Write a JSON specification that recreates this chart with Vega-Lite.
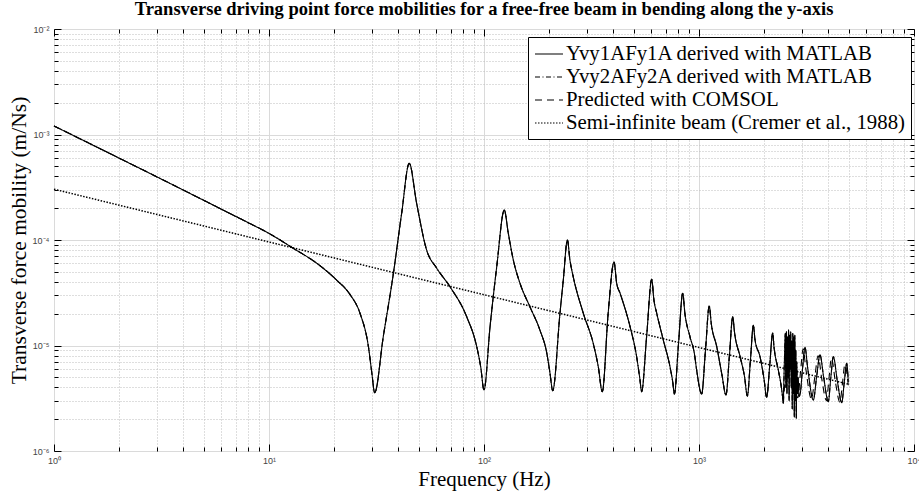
{
  "$schema": "https://vega.github.io/schema/vega-lite/v6.json",
  "width": 860,
  "height": 422,
  "autosize": "none",
  "padding": {"left": 54, "top": 29, "right": 5, "bottom": 44},
  "background": "white",
  "config": {"view": {"stroke": "black", "strokeWidth": 1}},
  "title": {"text": "Transverse driving point force mobilities for a free-free beam in bending along the y-axis", "font": "Liberation Serif", "fontSize": 18.5, "fontWeight": "bold", "anchor": "middle", "offset": 7, "color": "black"},
  "datasets": {
    "curves": [
      {"f": 1, "m": 1.205e-3}, {"f": 2, "m": 6.0e-4}, {"f": 4, "m": 2.97e-4}, {"f": 6, "m": 1.96e-4}, {"f": 8, "m": 1.46e-4},
      {"f": 10, "m": 1.156e-4}, {"f": 12.97, "m": 8.34e-5}, {"f": 16.7, "m": 6.01e-5}, {"f": 20.6, "m": 4.18e-5}, {"f": 23.8, "m": 3.05e-5},
      {"f": 26.5, "m": 2.02e-5}, {"f": 29.0, "m": 9.75e-6}, {"f": 30.1, "m": 5.45e-6}, {"f": 31.0, "m": 3.57e-6}, {"f": 34.0, "m": 1.21e-5},
      {"f": 37.9, "m": 4.83e-5}, {"f": 41.4, "m": 1.79e-4}, {"f": 44.9, "m": 5.33e-4}, {"f": 48.6, "m": 2.23e-4}, {"f": 54.1, "m": 8.03e-5},
      {"f": 60.3, "m": 5.4e-5}, {"f": 69.5, "m": 3.6e-5}, {"f": 83.1, "m": 1.87e-5}, {"f": 92.5, "m": 9.75e-6}, {"f": 96.5, "m": 6.3e-6},
      {"f": 100, "m": 3.79e-6}, {"f": 106.7, "m": 1.51e-5}, {"f": 114.6, "m": 5.58e-5}, {"f": 124.3, "m": 1.92e-4}, {"f": 129.7, "m": 1.16e-4},
      {"f": 136.9, "m": 6.46e-5}, {"f": 147, "m": 3.89e-5}, {"f": 163.5, "m": 2.33e-5}, {"f": 182, "m": 1.4e-5}, {"f": 196, "m": 8.43e-6},
      {"f": 202.8, "m": 5.45e-6}, {"f": 208.7, "m": 3.73e-6}, {"f": 225.6, "m": 2.02e-5}, {"f": 233.8, "m": 4.18e-5}, {"f": 244.3, "m": 1.0e-4},
      {"f": 251, "m": 6.46e-5}, {"f": 260, "m": 4.49e-5}, {"f": 289.7, "m": 2.02e-5}, {"f": 322, "m": 1.05e-5}, {"f": 340, "m": 6.3e-6},
      {"f": 355, "m": 3.65e-6}, {"f": 378, "m": 2.02e-5}, {"f": 402.5, "m": 6.18e-5}, {"f": 414, "m": 3.9e-5}, {"f": 429.5, "m": 3.13e-5},
      {"f": 477.8, "m": 1.51e-5}, {"f": 513, "m": 7.8e-6}, {"f": 531, "m": 4.8e-6}, {"f": 541, "m": 3.65e-6}, {"f": 571, "m": 1.24e-5},
      {"f": 602.6, "m": 4.24e-5}, {"f": 617, "m": 2.7e-5}, {"f": 636, "m": 2.02e-5}, {"f": 682, "m": 1.13e-5}, {"f": 733, "m": 6.3e-6},
      {"f": 755, "m": 4.5e-6}, {"f": 768, "m": 3.47e-6}, {"f": 803, "m": 1.04e-5}, {"f": 840, "m": 3.13e-5}, {"f": 860, "m": 2.01e-5},
      {"f": 908, "m": 1.21e-5}, {"f": 952, "m": 8.36e-6}, {"f": 975, "m": 5.86e-6}, {"f": 1029, "m": 3.47e-6}, {"f": 1072, "m": 9.06e-6},
      {"f": 1116, "m": 2.37e-5}, {"f": 1141, "m": 1.6e-5}, {"f": 1209, "m": 9.75e-6}, {"f": 1275, "m": 5.45e-6}, {"f": 1335, "m": 3.4e-6},
      {"f": 1385, "m": 7.98e-6}, {"f": 1435, "m": 1.87e-5}, {"f": 1463, "m": 1.33e-5}, {"f": 1553, "m": 7.83e-6}, {"f": 1627, "m": 5.12e-6},
      {"f": 1679, "m": 3.32e-6}, {"f": 1734, "m": 7.18e-6}, {"f": 1790, "m": 1.55e-5}, {"f": 1821, "m": 1.14e-5}, {"f": 1922, "m": 7.83e-6},
      {"f": 2007, "m": 4.79e-6}, {"f": 2064, "m": 3.23e-6}, {"f": 2133, "m": 6.49e-6}, {"f": 2201, "m": 1.31e-5}, {"f": 2234, "m": 9.6e-6},
      {"f": 2338, "m": 5.86e-6}, {"f": 2411, "m": 4.15e-6}, {"f": 2468, "m": 2.83e-6},
      {"f": 2468, "a": 2.83e-6}, {"f": 2500, "a": 8e-6}, {"f": 2520, "a": 1.3e-5}, {"f": 2535, "a": 4e-6}, {"f": 2550, "a": 1.35e-5},
      {"f": 2565, "a": 3.5e-6}, {"f": 2580, "a": 1.2e-5}, {"f": 2595, "a": 5e-6}, {"f": 2610, "a": 1.4e-5}, {"f": 2625, "a": 3e-6},
      {"f": 2640, "a": 1.25e-5}, {"f": 2655, "a": 6e-6}, {"f": 2670, "a": 1.35e-5}, {"f": 2685, "a": 4e-6}, {"f": 2700, "a": 1.1e-5},
      {"f": 2715, "a": 2.5e-6}, {"f": 2730, "a": 1.3e-5}, {"f": 2745, "a": 3.5e-6}, {"f": 2760, "a": 1.2e-5}, {"f": 2775, "a": 2.1e-6},
      {"f": 2790, "a": 1.25e-5}, {"f": 2805, "a": 3e-6}, {"f": 2820, "a": 9e-6}, {"f": 2835, "a": 2.05e-6}, {"f": 2850, "a": 7e-6},
      {"f": 2870, "a": 3.5e-6}, {"f": 2890, "a": 5e-6}, {"f": 2920, "a": 3.3e-6}, {"f": 2950, "a": 3.4e-6}, {"f": 3030, "a": 6.0e-6},
      {"f": 3112, "a": 9.6e-6}, {"f": 3200, "a": 6.2e-6}, {"f": 3402, "a": 3.04e-6}, {"f": 3530, "a": 5.2e-6}, {"f": 3654, "a": 8.15e-6},
      {"f": 3800, "a": 5.0e-6}, {"f": 3994, "a": 2.94e-6}, {"f": 4100, "a": 4.9e-6}, {"f": 4215, "a": 7.83e-6}, {"f": 4400, "a": 4.6e-6},
      {"f": 4611, "a": 2.87e-6}, {"f": 4740, "a": 4.5e-6}, {"f": 4864, "a": 6.78e-6}, {"f": 4948, "a": 4.5e-6},
      {"f": 2468, "c": 2.83e-6}, {"f": 2540, "c": 6.5e-6}, {"f": 2590, "c": 1.15e-5}, {"f": 2700, "c": 6e-6}, {"f": 2880, "c": 3.2e-6},
      {"f": 2970, "c": 5.8e-6}, {"f": 3050, "c": 9.3e-6}, {"f": 3140, "c": 6.0e-6}, {"f": 3335, "c": 3.1e-6}, {"f": 3460, "c": 5.1e-6},
      {"f": 3580, "c": 8.0e-6}, {"f": 3720, "c": 4.9e-6}, {"f": 3915, "c": 3.0e-6}, {"f": 4020, "c": 4.8e-6}, {"f": 4130, "c": 7.6e-6},
      {"f": 4310, "c": 4.5e-6}, {"f": 4520, "c": 2.9e-6}, {"f": 4650, "c": 4.4e-6}, {"f": 4770, "c": 6.6e-6}, {"f": 4948, "c": 4.2e-6},
      {"f": 1, "d": 3.03e-4}, {"f": 5000, "d": 4.28e-6}
    ]
  },
  "data": {"name": "curves"},
  "resolve": {"axis": {"x": "independent", "y": "independent"}},
  "layer": [
    {
      "transform": [{"filter": "isValid(datum.m)"}],
      "mark": {"type": "line", "color": "black", "strokeWidth": 1.1, "interpolate": "monotone"},
      "encoding": {
        "x": {"field": "f", "type": "quantitative", "scale": {"type": "log", "domain": [1, 10000], "nice": false},
          "axis": {"orient": "bottom", "values": [1, 10, 100, 1000, 10000], "labelExpr": "'10' + ['⁰','¹','²','³','⁴'][round(log(datum.value)/LN10)]", "ticks": false, "grid": true, "gridColor": "#dadada", "gridWidth": 1, "domain": false, "labelFont": "Liberation Sans", "labelFontSize": 9, "labelColor": "#444", "labelPadding": 5, "labelFlush": false, "labelOverlap": false, "title": "Frequency (Hz)", "titleFont": "Liberation Serif", "titleFontSize": 21, "titleFontWeight": "normal", "titleColor": "black", "titlePadding": 3}},
        "y": {"field": "m", "type": "quantitative", "scale": {"type": "log", "domain": [1e-6, 1e-2], "nice": false},
          "axis": {"orient": "left", "values": [1e-6, 1e-5, 1e-4, 1e-3, 1e-2], "labelExpr": "'10⁻' + ['⁰','¹','²','³','⁴','⁵','⁶'][round(-log(datum.value)/LN10)]", "ticks": false, "grid": true, "gridColor": "#dadada", "gridWidth": 1, "domain": false, "labelFont": "Liberation Sans", "labelFontSize": 9, "labelColor": "#444", "labelPadding": 5, "labelFlush": false, "labelOverlap": false, "title": "Transverse force mobility (m/Ns)", "titleFont": "Liberation Serif", "titleFontSize": 21.5, "titleFontWeight": "normal", "titleColor": "black", "titlePadding": 2}},
        "strokeDash": {"datum": "Yvy1AFy1A derived with MATLAB", "type": "nominal",
          "scale": {"domain": ["Yvy1AFy1A derived with MATLAB", "Yvy2AFy2A derived with MATLAB", "Predicted with COMSOL", "Semi-infinite beam (Cremer et al., 1988)"], "range": [[1, 0], [5, 2.5, 1, 2.5], [7, 5], [1.5, 1.5]]},
          "legend": {"title": null, "orient": "none", "legendX": 474, "legendY": 8, "strokeColor": "black", "fillColor": "white", "padding": 6, "labelFont": "Liberation Serif", "labelFontSize": 20.8, "labelColor": "black", "labelLimit": 0, "symbolType": "M-1.4,0H1.4", "symbolSize": 400, "symbolOffset": 4, "symbolStrokeWidth": 1.2, "symbolStrokeColor": "black", "labelOffset": 6, "rowPadding": 2, "cornerRadius": 0}}
      }
    },
    {
      "transform": [{"filter": "isValid(datum.m)"}],
      "mark": {"type": "line", "color": "black", "strokeWidth": 1.1, "interpolate": "monotone"},
      "encoding": {
        "x": {"field": "f", "type": "quantitative", "scale": {"type": "log", "domain": [1, 10000], "nice": false},
          "axis": {"orient": "bottom", "values": [2,3,4,5,6,7,8,9,20,30,40,50,60,70,80,90,200,300,400,500,600,700,800,900,2000,3000,4000,5000,6000,7000,8000,9000], "labels": false, "ticks": true, "tickSize": -4, "tickColor": "black", "grid": true, "gridColor": "#bdbdbd", "gridDash": [1, 2], "domain": false, "title": null}},
        "y": {"field": "m", "type": "quantitative", "scale": {"type": "log", "domain": [1e-6, 1e-2], "nice": false},
          "axis": {"orient": "left", "values": [2e-6,3e-6,4e-6,5e-6,6e-6,7e-6,8e-6,9e-6,2e-5,3e-5,4e-5,5e-5,6e-5,7e-5,8e-5,9e-5,2e-4,3e-4,4e-4,5e-4,6e-4,7e-4,8e-4,9e-4,2e-3,3e-3,4e-3,5e-3,6e-3,7e-3,8e-3,9e-3], "labels": false, "ticks": true, "tickSize": -4, "tickColor": "black", "grid": true, "gridColor": "#bdbdbd", "gridDash": [1, 2], "domain": false, "title": null}},
        "strokeDash": {"datum": "Yvy2AFy2A derived with MATLAB", "type": "nominal"}
      }
    },
    {
      "transform": [{"filter": "isValid(datum.m)"}],
      "mark": {"type": "line", "color": "black", "strokeWidth": 1.1, "interpolate": "monotone"},
      "encoding": {
        "x": {"field": "f", "type": "quantitative", "scale": {"type": "log", "domain": [1, 10000], "nice": false},
          "axis": {"orient": "bottom", "values": [1, 10, 100, 1000, 10000], "labels": false, "ticks": true, "tickSize": -7, "tickColor": "black", "grid": false, "domain": false, "title": null}},
        "y": {"field": "m", "type": "quantitative", "scale": {"type": "log", "domain": [1e-6, 1e-2], "nice": false},
          "axis": {"orient": "left", "values": [1e-6, 1e-5, 1e-4, 1e-3, 1e-2], "labels": false, "ticks": true, "tickSize": -7, "tickColor": "black", "grid": false, "domain": false, "title": null}},
        "strokeDash": {"datum": "Predicted with COMSOL", "type": "nominal"}
      }
    },
    {
      "transform": [{"filter": "isValid(datum.a)"}],
      "mark": {"type": "line", "color": "black", "strokeWidth": 1.1, "interpolate": "monotone"},
      "encoding": {
        "x": {"field": "f", "type": "quantitative", "scale": {"type": "log", "domain": [1, 10000], "nice": false},
          "axis": {"orient": "top", "values": [2,3,4,5,6,7,8,9,20,30,40,50,60,70,80,90,200,300,400,500,600,700,800,900,2000,3000,4000,5000,6000,7000,8000,9000], "labels": false, "ticks": true, "tickSize": -4, "tickColor": "black", "grid": false, "domain": false, "title": null}},
        "y": {"field": "a", "type": "quantitative", "scale": {"type": "log", "domain": [1e-6, 1e-2], "nice": false},
          "axis": {"orient": "right", "values": [2e-6,3e-6,4e-6,5e-6,6e-6,7e-6,8e-6,9e-6,2e-5,3e-5,4e-5,5e-5,6e-5,7e-5,8e-5,9e-5,2e-4,3e-4,4e-4,5e-4,6e-4,7e-4,8e-4,9e-4,2e-3,3e-3,4e-3,5e-3,6e-3,7e-3,8e-3,9e-3], "labels": false, "ticks": true, "tickSize": -4, "tickColor": "black", "grid": false, "domain": false, "title": null}},
        "strokeDash": {"datum": "Yvy1AFy1A derived with MATLAB", "type": "nominal"}
      }
    },
    {
      "transform": [{"filter": "isValid(datum.a)"}],
      "mark": {"type": "line", "color": "black", "strokeWidth": 1.1, "interpolate": "monotone"},
      "encoding": {
        "x": {"field": "f", "type": "quantitative", "scale": {"type": "log", "domain": [1, 10000], "nice": false},
          "axis": {"orient": "top", "values": [1, 10, 100, 1000, 10000], "labels": false, "ticks": true, "tickSize": -7, "tickColor": "black", "grid": false, "domain": false, "title": null}},
        "y": {"field": "a", "type": "quantitative", "scale": {"type": "log", "domain": [1e-6, 1e-2], "nice": false},
          "axis": {"orient": "right", "values": [1e-6, 1e-5, 1e-4, 1e-3, 1e-2], "labels": false, "ticks": true, "tickSize": -7, "tickColor": "black", "grid": false, "domain": false, "title": null}},
        "strokeDash": {"datum": "Yvy2AFy2A derived with MATLAB", "type": "nominal"}
      }
    },
    {
      "transform": [{"filter": "isValid(datum.c)"}],
      "mark": {"type": "line", "color": "black", "strokeWidth": 1.1, "interpolate": "monotone"},
      "encoding": {
        "x": {"field": "f", "type": "quantitative", "scale": {"type": "log", "domain": [1, 10000], "nice": false}, "axis": null},
        "y": {"field": "c", "type": "quantitative", "scale": {"type": "log", "domain": [1e-6, 1e-2], "nice": false}, "axis": null},
        "strokeDash": {"datum": "Predicted with COMSOL", "type": "nominal"}
      }
    },
    {
      "transform": [{"filter": "isValid(datum.d)"}],
      "mark": {"type": "line", "color": "black", "strokeWidth": 1.5},
      "encoding": {
        "x": {"field": "f", "type": "quantitative", "scale": {"type": "log", "domain": [1, 10000], "nice": false}, "axis": null},
        "y": {"field": "d", "type": "quantitative", "scale": {"type": "log", "domain": [1e-6, 1e-2], "nice": false}, "axis": null},
        "strokeDash": {"datum": "Semi-infinite beam (Cremer et al., 1988)", "type": "nominal"}
      }
    }
  ]
}
